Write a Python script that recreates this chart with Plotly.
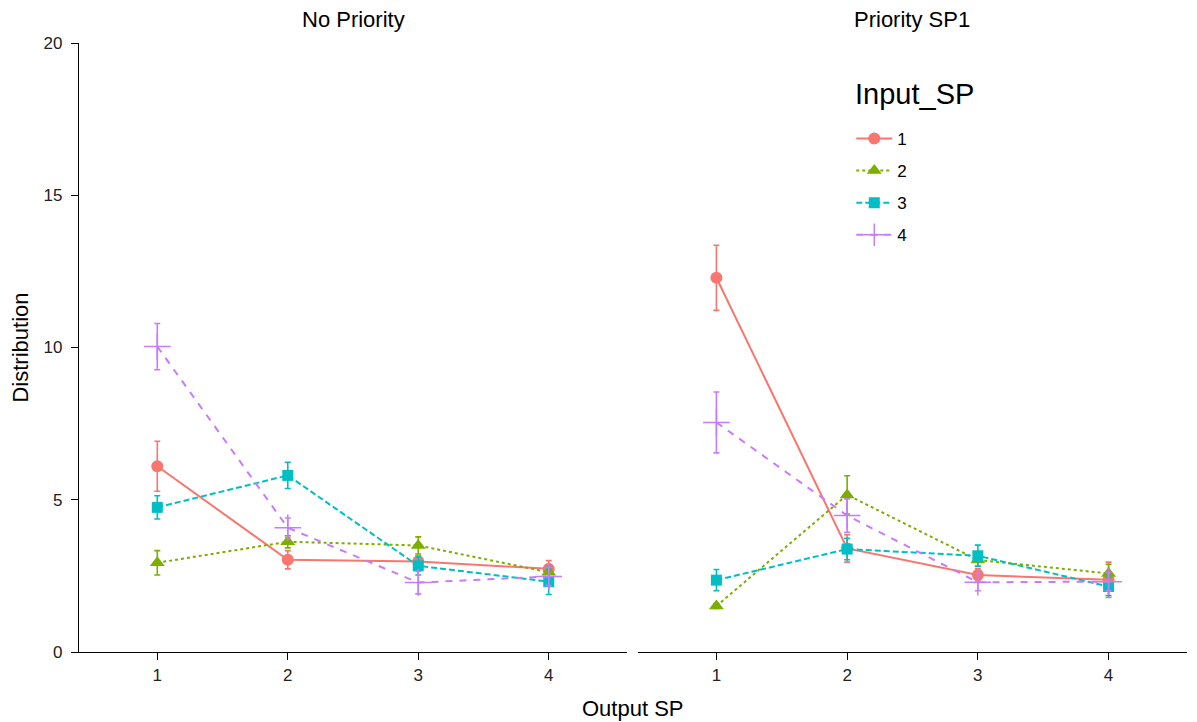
import plotly.graph_objects as go

output_sp = [1, 2, 3, 4]
series_names = ["1", "2", "3", "4"]
panels = ["No Priority", "Priority SP1"]

# values[panel][series]
vals_no = {
    "1": [6.10, 3.03, 2.97, 2.73],
    "2": [2.93, 3.62, 3.50, 2.62],
    "3": [4.75, 5.80, 2.83, 2.31],
    "4": [10.03, 4.08, 2.28, 2.48],
}
err_no = {
    "1": [0.82, 0.30, 0.20, 0.27],
    "2": [0.40, 0.20, 0.28, 0.20],
    "3": [0.38, 0.43, 0.30, 0.42],
    "4": [0.76, 0.32, 0.37, 0.30],
}
vals_p1 = {
    "1": [12.29, 3.40, 2.53, 2.37],
    "2": [1.51, 5.16, 3.02, 2.58],
    "3": [2.36, 3.38, 3.16, 2.15],
    "4": [7.54, 4.48, 2.29, 2.31],
}
err_p1 = {
    "1": [1.07, 0.45, 0.20, 0.58],
    "2": [0.08, 0.63, 0.20, 0.30],
    "3": [0.35, 0.35, 0.35, 0.30],
    "4": [1.00, 0.55, 0.28, 0.30],
}

colors = {"1": "#F8766D", "2": "#7CAE00", "3": "#00BFC4", "4": "#C77CFF"}
dashes = {"1": "solid", "2": "3px,3px", "3": "6px,3px", "4": "7px,7px"}
symbols = {"1": "circle", "2": "triangle-up", "3": "square", "4": "cross-thin"}
sizes = {"1": 12, "2": 13, "3": 11, "4": 19}

FONT = "Liberation Sans, Arial, Helvetica, sans-serif"

fig = go.Figure()
for pi, (vals, errs) in enumerate([(vals_no, err_no), (vals_p1, err_p1)]):
    xa = "x" if pi == 0 else "x2"
    for s in series_names:
        c = colors[s]
        fig.add_trace(go.Scatter(
            x=output_sp, y=vals[s], xaxis=xa, yaxis="y",
            mode="lines+markers", name=s, legendgroup=s,
            showlegend=(pi == 0),
            line=dict(color=c, width=2, dash=dashes[s]),
            marker=dict(symbol=symbols[s], size=sizes[s], color=c,
                        line=dict(color=c, width=1.5 if s == "4" else 0)),
            error_y=dict(type="data", array=errs[s], visible=True,
                         color=c, thickness=1.6, width=3),
        ))

axis_common = dict(
    showgrid=False, zeroline=False, showline=True, linecolor="black",
    linewidth=1.3, ticks="outside", ticklen=7, tickcolor="black",
    tickfont=dict(family=FONT, size=17, color="#222222"),
)
fig.update_layout(
    width=1197, height=722,
    margin=dict(l=79, r=10, t=43, b=70),
    paper_bgcolor="white", plot_bgcolor="white",
    font=dict(family=FONT, color="black"),
    xaxis=dict(domain=[0, 0.4946], range=[0.4, 4.6], tickvals=output_sp,
               ticktext=[str(v) for v in output_sp], **axis_common),
    xaxis2=dict(domain=[0.5045, 1], range=[0.4, 4.6], tickvals=output_sp,
                ticktext=[str(v) for v in output_sp], anchor="y", **axis_common),
    yaxis=dict(range=[0, 20], tickvals=[0, 5, 10, 15, 20], ticklabelstandoff=5,
               title=dict(text="Distribution", font=dict(family=FONT, size=22), standoff=8),
               **axis_common),
    legend=dict(
        x=0.697, y=0.872, xanchor="left", yanchor="top",
        font=dict(family=FONT, size=17), tracegroupgap=7, itemwidth=36,
        bgcolor="rgba(0,0,0,0)",
    ),
    showlegend=True,
)
# legend title
fig.add_annotation(text="Input_SP", xref="paper", yref="paper",
                   x=(853 - 79) / 1108, y=(652 - 94) / 609,
                   xanchor="left", yanchor="middle", showarrow=False,
                   font=dict(family=FONT, size=29))
fig.add_annotation(text="Output SP", xref="paper", yref="paper", x=0.5, y=-0.092,
                   xanchor="center", yanchor="middle", showarrow=False,
                   font=dict(family=FONT, size=22))
fig.add_annotation(text=panels[0], xref="paper", yref="paper", x=0.4946 / 2, y=1.038,
                   xanchor="center", yanchor="middle", showarrow=False,
                   font=dict(family=FONT, size=22))
fig.add_annotation(text=panels[1], xref="paper", yref="paper", x=(0.5045 + 1) / 2, y=1.038,
                   xanchor="center", yanchor="middle", showarrow=False,
                   font=dict(family=FONT, size=22))

fig.write_html("out.html")
